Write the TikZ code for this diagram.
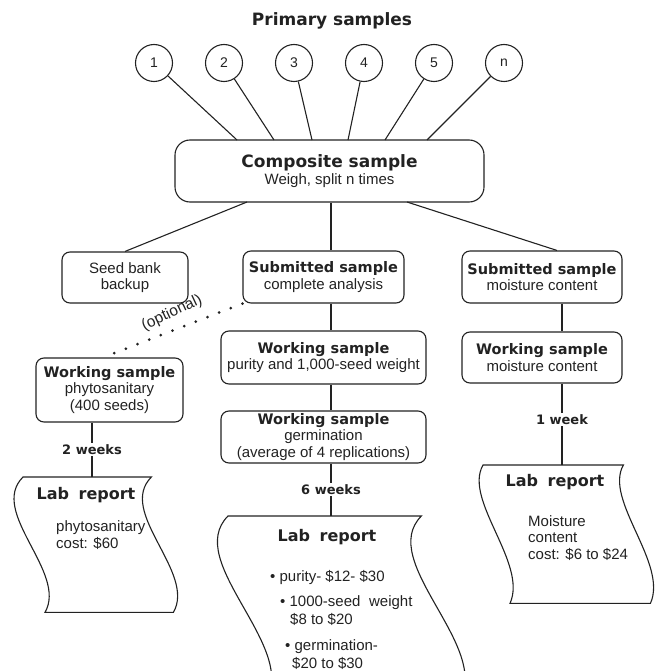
\documentclass[tikz,border=0pt]{standalone}
\usepackage{fontspec}
\setmainfont{Liberation Sans}
\newfontfamily\hdfont{DejaVu Sans}
\usetikzlibrary{shapes.geometric,calc}
\newcommand\myrg{\fontsize{15}{16.5}\selectfont}
\newcommand\myhd{\hdfont\bfseries\fontsize{14.5}{16.5}\selectfont}
\newcommand\mybig{\hdfont\bfseries\fontsize{17}{19}\selectfont}
\newcommand\mylabfont{\hdfont\bfseries\fontsize{16}{18}\selectfont}
\definecolor{ink}{HTML}{222222}
\newcommand\mylabshape[6]{%
  \draw[ln] (#1.north west) -- (#1.north east)
    .. controls ($(#1.north east)+(#3,#4)$) and ($(#1.south east)+(#5,#6)$) .. ($(#1.south east)+(#2,0)$)
    -- ($(#1.south west)+(#2,0)$)
    .. controls ($(#1.south west)+(#5,#6)$) and ($(#1.north west)+(#3,#4)$) .. (#1.north west) -- cycle;}
\tikzset{
  ln/.style={draw=ink, line width=1.1pt},
  box/.style={draw=ink, line width=1.1pt, rounded corners=8pt, align=center, inner sep=0pt, font=\myrg, text=ink},
  num/.style={ellipse, draw=ink, line width=1.1pt, minimum width=37pt, minimum height=37pt, inner sep=0pt, font=\fontsize{14}{16}\selectfont, text=ink},
  wk/.style={fill=white, inner sep=1.5pt, font=\hdfont\bfseries\fontsize{13}{15}\selectfont, text=ink},
  dotline/.style={draw=ink, line width=3pt, dash pattern=on 0pt off 12.5pt, line cap=round},
  labarea/.style={inner sep=0pt, anchor=north west},
  txt/.style={inner sep=0pt, font=\myrg, text=ink},
  labhead/.style={inner sep=0pt, font=\mylabfont, text=ink},
}
\begin{document}
\begin{tikzpicture}[x=1pt,y=-1pt]
\useasboundingbox (0,0) rectangle (655,671);
\clip (0,0) rectangle (655,671);

% title and primary samples
\node[font=\mybig, text=ink] (title) at (332,21) {Primary samples};
\node[num] (c1) at (154,63) {1};
\node[num] (c2) at (224,63) {2};
\node[num] (c3) at (294,63) {3};
\node[num] (c4) at (364,63) {4};
\node[num] (c5) at (434,63) {5};
\node[num] (c6) at (504,63) {n};

% composite
\node[box, rounded corners=15pt, minimum width=309pt, minimum height=62pt] (comp) at (329.5,171)
  {{\mybig Composite sample}\\[1pt] Weigh, split n times};

\coordinate (t1) at (237,140);
\coordinate (t2) at (274,140);
\coordinate (t3) at (312,140);
\coordinate (t4) at (348,140);
\coordinate (t5) at (385,140);
\coordinate (t6) at (427,140);
\draw[ln] (c1) -- (t1);
\draw[ln] (c2) -- (t2);
\draw[ln] (c3) -- (t3);
\draw[ln] (c4) -- (t4);
\draw[ln] (c5) -- (t5);
\draw[ln] (c6) -- (t6);

% second row
\node[box, minimum width=126pt, minimum height=51pt] (seed) at (125,277.5) {Seed bank\\backup};
\node[box, minimum width=161pt, minimum height=52pt] (sub1) at (323.5,277) {{\myhd Submitted sample}\\complete analysis};
\node[box, minimum width=160pt, minimum height=52pt] (sub2) at (542,277) {{\myhd Submitted sample}\\moisture content};

% working samples
\node[box, minimum width=205pt, minimum height=53pt] (wp) at (323.5,357.5) {{\myhd Working sample}\\purity and 1,000-seed weight};
\node[box, minimum width=160pt, minimum height=51pt] (wr) at (542,357.5) {{\myhd Working sample}\\moisture content};
\node[box, minimum width=205pt, minimum height=52pt] (wg) at (323.5,437) {{\myhd Working sample}\\germination\\(average of 4 replications)};
\node[box, minimum width=147pt, minimum height=64pt] (phyto) at (109.5,390) {{\myhd Working sample}\\phytosanitary\\(400 seeds)};

% lab report areas
\node[labarea, minimum width=128pt, minimum height=135pt] (lab1) at (23,477) {};
\node[labarea, minimum width=193pt, minimum height=184pt] (lab2) at (228,516) {};
\node[labarea, minimum width=140pt, minimum height=138pt] (lab3) at (483,465) {};
\mylabshape{lab1}{22}{-35}{35}{45}{-40}
\mylabshape{lab2}{38}{-45}{45}{70}{-54}
\mylabshape{lab3}{27}{-20}{35}{45}{-40}

% connectors
\coordinate (b1) at (247,202);
\coordinate (b3) at (407,202);
\coordinate (vx0) at (92,0);
\coordinate (vx1) at (331,0);
\coordinate (vx2) at (562,0);
\draw[ln] (b1) -- (seed.north);
\draw[ln] (comp.south -| vx1) -- (sub1.north -| vx1);
\draw[ln] (b3) -- ([xshift=15pt]sub2.north);
\draw[ln] (sub1.south -| vx1) -- (wp.north -| vx1);
\draw[ln] (wp.south -| vx1) -- (wg.north -| vx1);
\draw[ln] (wg.south -| vx1) -- node[wk] (w6) {6 weeks} (lab2.north -| vx1);
\draw[ln] (sub2.south -| vx2) -- (wr.north -| vx2);
\draw[ln] (wr.south -| vx2) -- node[wk, pos=0.44] (w1) {1 week} (lab3.north -| vx2);
\draw[ln] (phyto.south -| vx0) -- node[wk] (w2) {2 weeks} (lab1.north -| vx0);
\draw[dotline] (sub1.south west) -- ([shift={(4,-4)}]phyto.north);
\node[txt, font=\fontsize{15.5}{17}\selectfont, rotate=25] (opt) at (172,313) {(optional)};

% lab report texts
\node[labhead] (lab1h) at (86,495) {Lab\hspace{0.6em}report};
\node[txt, anchor=west, align=left] (lab1t) at (56,535) {phytosanitary\\cost: \$60};

\node[labhead] (lab2h) at (327,537) {Lab\hspace{0.6em}report};
\node[txt, anchor=west] (lab2a) at (270,577) {\textbullet\ purity- \$12- \$30};
\node[txt, anchor=west] (lab2b) at (280,603) {\textbullet\ 1000-seed\hspace{0.3em} weight};
\node[txt, anchor=west] (lab2c) at (290,619) {\$8 to \$20};
\node[txt, anchor=west] (lab2d) at (285,647) {\textbullet\ germination-};
\node[txt, anchor=west] (lab2e) at (292,663) {\$20 to \$30};

\node[labhead] (lab3h) at (555,482) {Lab\hspace{0.6em}report};
\node[txt, anchor=west, align=left] (lab3t) at (528,538) {Moisture\\content\\cost: \$6 to \$24};
\end{tikzpicture}
\end{document}
